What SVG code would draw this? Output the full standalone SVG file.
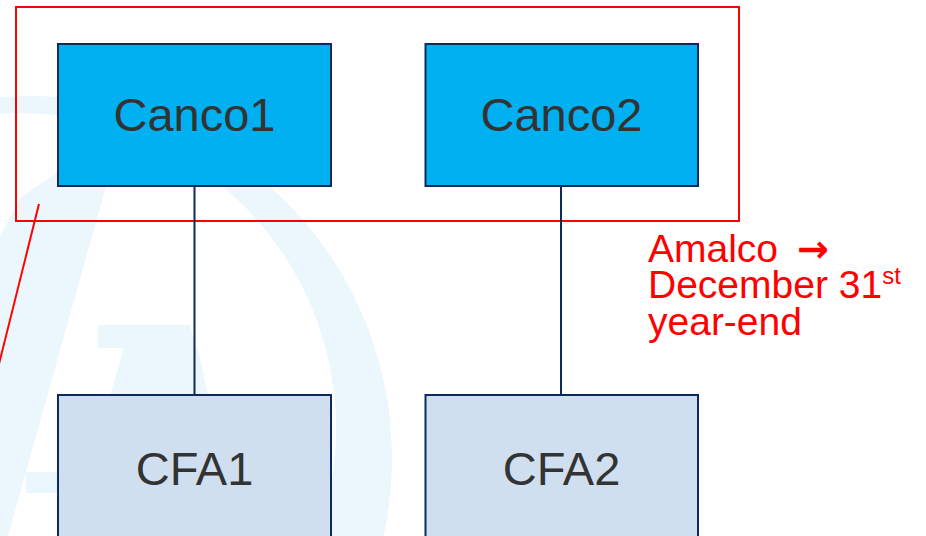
<svg xmlns="http://www.w3.org/2000/svg" width="926" height="536" viewBox="0 0 926 536">
  <style>
    .wm { fill: #ecf6fd; stroke: none; }
    .canco { fill: #00b0f0; stroke: #0d2a5e; stroke-width: 2; }
    .cfa { fill: #d0dfef; stroke: #0d2a5e; stroke-width: 2; }
    .label { font-family: "Liberation Sans", Arial, sans-serif; font-size: 47px; fill: #333333; text-anchor: middle; }
    .link { stroke: #0d2a5e; stroke-width: 2; fill: none; }
    .note { font-family: "Liberation Sans", Arial, sans-serif; font-size: 39px; fill: #ff0000; }
    .callout { fill: none; stroke: #ff0000; stroke-width: 2; }
  </style>

  <rect width="926" height="536" fill="#ffffff"/>

  <!-- faint background logo -->
  <g id="watermark">
    <path class="wm" fill-rule="evenodd" d="M30,96 A362,362 0 1,1 29.9,96 Z M20,113 A316,316 0 1,0 20.1,113 Z"/>
    <polygon class="wm" points="58,172 110,172 8,536 -80,536 0,236 20,198"/>
    <polygon class="wm" points="98,325 190,325 196,348 98,348"/>
    <polygon class="wm" points="124,348 198,348 208,396 110,396"/>
    <rect class="wm" x="26" y="472" width="34" height="21"/>
  </g>

  <!-- grouping outline and its pointer -->
  <g id="amalco-group">
    <rect class="callout" x="16" y="7" width="723" height="214"/>
    <line class="callout" x1="39" y1="204" x2="-1" y2="364"/>
  </g>

  <g id="connectors">
    <line class="link" x1="194.5" y1="186" x2="194.5" y2="395"/>
    <line class="link" x1="561" y1="186" x2="561" y2="395"/>
  </g>

  <g id="canco1">
    <rect class="canco" x="58" y="44" width="273" height="142"/>
    <text class="label" x="194.5" y="131">Canco1</text>
  </g>

  <g id="canco2">
    <rect class="canco" x="425.5" y="44" width="272.5" height="142"/>
    <text class="label" x="561.5" y="131">Canco2</text>
  </g>

  <g id="cfa1">
    <rect class="cfa" x="58" y="395" width="273" height="160"/>
    <text class="label" x="194.5" y="485">CFA1</text>
  </g>

  <g id="cfa2">
    <rect class="cfa" x="425.5" y="395" width="272.5" height="160"/>
    <text class="label" x="561.5" y="485">CFA2</text>
  </g>

  <g id="amalco-note">
    <text class="note" x="648" y="262">Amalco <tspan dx="8" font-family="'DejaVu Sans', sans-serif" font-weight="bold" font-size="38px">→</tspan></text>
    <text class="note" x="648" y="298">December 31<tspan font-size="24px" dy="-14">st</tspan></text>
    <text class="note" x="648" y="335">year-end</text>
  </g>
</svg>
